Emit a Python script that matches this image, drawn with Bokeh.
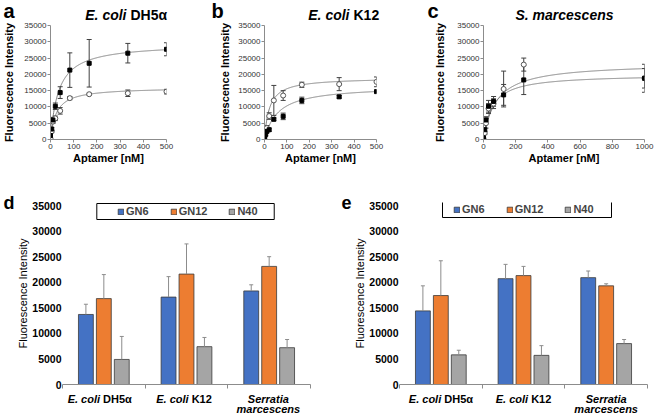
import numpy as np
from bokeh.plotting import figure
from bokeh.models import Range1d, FixedTicker, Legend, LegendItem, LinearAxis
from bokeh.core.properties import value
from bokeh.layouts import row, column
from bokeh.embed import file_html
from bokeh.resources import INLINE

FONT = "Liberation Sans"
W = 656

# ---------------- data: binding curves (a, b, c) ----------------
conc_ab = [0, 5.2, 10.4, 20.8, 41.7, 83.3, 166.7, 333.3, 500]
conc_c = [0, 7.8, 15.6, 31.25, 62.5, 125, 250, 1000]

a_filled = [1200, 3200, 6000, 10200, 14400, 21300, 23400, 26500, 27700]
a_filled_err = [300, 500, 800, 1000, 1800, 5300, 7300, 3000, 2000]
a_open = [300, 2500, 5500, 6500, 8800, 12700, 13900, 14200, 14700]
a_open_err = [200, 400, 600, 700, 1000, 500, 300, 1000, 700]

b_filled = [300, 1500, 2500, 3000, 6200, 7100, 12000, 13100, 14700]
b_filled_err = [200, 300, 400, 500, 400, 1000, 1000, 400, 300]
b_open = [500, 2500, 3500, 7200, 12000, 13500, 16800, 17000, 17700]
b_open_err = [200, 500, 800, 1000, 4600, 1500, 800, 2000, 1500]

c_filled = [500, 3000, 6000, 10200, 11700, 13700, 18300, 18800]
c_filled_err = [200, 500, 1000, 1800, 1500, 3200, 4500, 3000]
c_open = [300, 2000, 5000, 9500, 11000, 15500, 23000, 18800]
c_open_err = [200, 500, 1500, 1500, 1500, 5500, 2000, 4300]

# fitted saturation curves: (Bmax, Kd)
a_fit_filled, a_fit_open = (29500, 35), (16000, 25)
b_fit_filled, b_fit_open = (16500, 60), (19000, 22)
c_fit_filled, c_fit_open = (23500, 80), (20000, 55)

panel_titles = [["E. coli", "DH5α"], ["E. coli", "K12"], ["S. marcescens"]]
ticks_ab = [0, 100, 200, 300, 400, 500]
ticks_c = [0, 200, 400, 600, 800, 1000]
ticks_y = [0, 5000, 10000, 15000, 20000, 25000, 30000, 35000]

# ---------------- data: bar charts (d, e) ----------------
categories = ["E. coli DH5α", "E. coli K12", "Serratia marcescens"]
series = ["GN6", "GN12", "N40"]
colors = ["#4472C4", "#ED7D31", "#A5A5A5"]

d_vals = [[13700, 17100, 18300], [16800, 21600, 23100], [4900, 7400, 7200]]
d_errs = [[2000, 4000, 1200], [4700, 5900, 1900], [4500, 1800, 1600]]
e_vals = [[14400, 20700, 20900], [17400, 21300, 19300], [5800, 5700, 8000]]
e_errs = [[4900, 2800, 1300], [6800, 1800, 400], [900, 1900, 800]]

# approximate Arial-bold advance widths (em) for the split category labels
CW = {"E": .667, ".": .278, " ": .278, "c": .556, "o": .611, "l": .278, "i": .278,
      "D": .722, "H": .722, "5": .556, "α": .6, "K": .722, "1": .556, "2": .556}


def text_w(s, size):
    return sum(CW.get(ch, .6) for ch in s) * size


def strip(height):
    """A bare figure whose data coordinates are page pixels (y downward)."""
    p = figure(width=W, height=height, x_range=Range1d(0, W), y_range=Range1d(height, 0),
               x_axis_type=None, y_axis_type=None, output_backend="svg", toolbar_location=None,
               min_border=0)
    p.grid.visible = False
    p.outline_line_color = None
    return p


def style_axis(ax, color="#333333", size="8px", bold=False):
    ax.major_label_text_font = FONT
    ax.major_label_text_font_size = size
    ax.major_label_text_color = color
    ax.major_label_text_font_style = "bold" if bold else "normal"
    ax.axis_label_text_font = FONT
    ax.axis_label_text_color = "black"
    ax.minor_tick_line_color = None


TXT = dict(text_font=value(FONT), text_baseline="middle", text_line_height=1.0)

# ---------------- header strip: panel letters and titles (page y 0..21) ----------------
HEAD_H = 21
head = strip(HEAD_H)
head.text(x=[3, 211, 427], y=[10.5, 10.5, 10.5], text=["a", "b", "c"],
          text_font_size="20px", text_font_style="bold", **TXT)
head.text(x=[126, 349], y=[14, 14], text=[panel_titles[0][0], panel_titles[1][0]],
          text_font_size="14px", text_font_style="bold italic", text_align="right", **TXT)
head.text(x=[130, 353], y=[14, 14], text=[panel_titles[0][1], panel_titles[1][1]],
          text_font_size="14px", text_font_style="bold", text_align="left", **TXT)
head.text(x=[564], y=[14], text=[panel_titles[2][0]], text_font_size="14px",
          text_font_style="bold italic", text_align="center", **TXT)

TOP_H, TOP_BT, TOP_BB = 145, 4, 26


def titration(width, bl, br, xmax, xticks, conc, filled, ferr, opn, oerr, fitf, fito,
              ylab_standoff):
    p = figure(width=width, height=TOP_H, x_range=Range1d(0, xmax), y_range=Range1d(0, 35000),
               output_backend="svg", toolbar_location=None,
               min_border_left=bl, min_border_right=br, min_border_top=TOP_BT,
               min_border_bottom=TOP_BB)
    p.grid.visible = False
    p.outline_line_color = None
    for ax in (p.xaxis[0], p.yaxis[0]):
        style_axis(ax)
        ax.axis_line_color = "#8c8c8c"
        ax.major_tick_line_color = "#8c8c8c"
        ax.major_tick_out = 3
        ax.major_tick_in = 0
        ax.major_label_standoff = 1
        ax.axis_label_text_font_size = "11px"
        ax.axis_label_text_font_style = "bold"
    p.xaxis.ticker = FixedTicker(ticks=xticks)
    p.yaxis.ticker = FixedTicker(ticks=ticks_y)
    p.xaxis.axis_label = "Aptamer [nM]"
    p.yaxis.axis_label = "Fluorescence Intensity"
    p.xaxis.axis_label_standoff = 0
    p.yaxis.axis_label_standoff = ylab_standoff

    xs = np.linspace(0, xmax, 400)
    for bmax, kd in (fitf, fito):
        p.line(xs, bmax * xs / (kd + xs), line_color="#7f7f7f", line_width=1)
    for vals, errs in ((opn, oerr), (filled, ferr)):
        lo = [v - e for v, e in zip(vals, errs)]
        hi = [v + e for v, e in zip(vals, errs)]
        p.segment(x0=conc, y0=lo, x1=conc, y1=hi, line_color="#404040", line_width=1)
        p.scatter(x=conc + conc, y=lo + hi, marker="dash", size=5, line_color="#404040",
                  line_width=1)
    p.scatter(conc, opn, marker="circle", size=5, fill_color="white", line_color="#555555")
    p.scatter(conc, filled, marker="square", size=4, fill_color="black", line_color="black")
    return p


BOT_Y0, BOT_H, BOT_BT, BOT_BB = 166, 226, 36, 8
YTOP = 35600


def bars(x0, width, bl, br, vals, errs, letter, legend_xy, box_px, ylab_standoff):
    fl, fr = x0 + bl, x0 + width - br
    ft, fb = BOT_Y0 + BOT_BT, BOT_Y0 + BOT_H - BOT_BB
    p = figure(width=width, height=BOT_H, x_range=Range1d(0, 3), y_range=Range1d(0, YTOP),
               output_backend="svg", toolbar_location=None,
               min_border_left=bl, min_border_right=br, min_border_top=BOT_BT,
               min_border_bottom=BOT_BB)
    p.grid.visible = False
    p.outline_line_color = None

    def dx(px):
        return (px - fl) / (fr - fl) * 3

    def dy(py):
        return (fb - py) / (fb - ft) * YTOP

    yax = p.yaxis[0]
    style_axis(yax, color="black", size="10.5px", bold=True)
    yax.axis_line_color = None
    yax.major_tick_line_color = None
    yax.major_tick_out = 0
    yax.major_tick_in = 0
    yax.major_label_standoff = 1
    yax.ticker = FixedTicker(ticks=ticks_y)
    yax.axis_label = "Fluorescence Intensity"
    yax.axis_label_text_font_size = "11px"
    yax.axis_label_text_font_style = "normal"
    yax.axis_label_standoff = ylab_standoff

    # outer left axis carrying only the panel letter at the top of the plot area
    ltick = YTOP - 50
    lax = LinearAxis(ticker=FixedTicker(ticks=[ltick]), major_label_overrides={ltick: letter},
                     axis_line_color=None, major_tick_line_color=None, major_tick_out=0,
                     major_tick_in=0, minor_tick_line_color=None, minor_tick_out=0,
                     minor_tick_in=0, major_label_standoff=0, axis_label_standoff=0,
                     major_label_text_font=FONT, major_label_text_font_size="18px",
                     major_label_text_font_style="bold", major_label_text_color="black")
    p.add_layout(lax, "left")

    xax = p.xaxis[0]
    style_axis(xax)
    xax.ticker = FixedTicker(ticks=[0, 1, 2, 3])
    xax.major_label_overrides = {0: "", 1: "", 2: "", 3: ""}
    xax.major_label_text_font_size = "1px"
    xax.major_label_standoff = 0
    xax.axis_line_color = "#8c8c8c"
    xax.major_tick_line_color = "#8c8c8c"
    xax.major_tick_out = 4
    xax.major_tick_in = 0

    # legend frame box
    bx0, bx1, by0, by1 = box_px
    p.quad(left=[dx(bx0)], right=[dx(bx1)], top=[dy(by0)], bottom=[dy(by1)],
           fill_color="white", line_color="black", line_width=1)

    offs = [-0.217, 0.0, 0.217]
    items = []
    for k in range(3):
        xs = [i + 0.5 + offs[k] for i in range(3)]
        r = p.vbar(x=xs, top=vals[k], width=0.18, fill_color=colors[k], line_color="#3a3a3a",
                   line_width=0.8)
        items.append(LegendItem(label=series[k], renderers=[r]))
        hi = [v + e for v, e in zip(vals[k], errs[k])]
        p.segment(x0=xs, y0=vals[k], x1=xs, y1=hi, line_color="#8c8c8c", line_width=1)
        p.scatter(x=xs, y=hi, marker="dash", size=4, line_color="#8c8c8c", line_width=1)

    leg = Legend(items=items, orientation="horizontal", location=legend_xy,
                 label_text_font=FONT, label_text_font_size="11px", label_text_font_style="bold",
                 glyph_width=7, glyph_height=7, label_standoff=2, spacing=21, padding=2, margin=0,
                 border_line_alpha=0, background_fill_alpha=0, label_height=12)
    p.add_layout(leg)
    return p, (fl, fr)


# top row (page y 21..166)
pa = titration(210, 47, 44, 500, ticks_ab, conc_ab, a_filled, a_filled_err, a_open, a_open_err,
               a_fit_filled, a_fit_open, 6)
pb = titration(215, 54, 49, 500, ticks_ab, conc_ab, b_filled, b_filled_err, b_open,
               b_open_err, b_fit_filled, b_fit_open, 4)
pc = titration(231, 58, 12, 1000, ticks_c, conc_c, c_filled, c_filled_err, c_open,
               c_open_err, c_fit_filled, c_fit_open, 8)

# bottom row (page y 166..392)
pd_, frame_d = bars(0, 338, 57, 28, d_vals, d_errs, "d", (53, 165), (92, 273, 203, 219), 0)
pe, frame_e = bars(338, 318, 61, 9, e_vals, e_errs, "e", (52, 167), (442, 611, 201, 217), 0)

# ---------------- footer strip: category labels (page y 392..414) ----------------
FOOT_H = 22
foot = strip(FOOT_H)
fs = 11
it_x, it_t, ro_x, ro_t, ce_x, ce_y, ce_t = [], [], [], [], [], [], []
for fl, fr in (frame_d, frame_e):
    for i, cat in enumerate(categories):
        cx = fl + (fr - fl) * (i + 0.5) / 3
        if cat.startswith("E. coli "):
            it, rom = "E. coli", cat[len("E. coli "):]
            wi, wr, sp = text_w(it, fs), text_w(rom, fs), text_w(" ", fs)
            off = -(wi + sp + wr) / 2 + wi
            it_x.append(cx + off)
            it_t.append(it)
            ro_x.append(cx + off + sp)
            ro_t.append(rom)
        else:
            for j, word in enumerate(cat.split(" ")):
                ce_x.append(cx)
                ce_y.append(6 + 10.5 * j)
                ce_t.append(word)
foot.text(x=it_x, y=[6] * len(it_x), text=it_t, text_font_size=f"{fs}px",
          text_font_style="bold italic", text_align="right", **TXT)
foot.text(x=ro_x, y=[6] * len(ro_x), text=ro_t, text_font_size=f"{fs}px",
          text_font_style="bold", text_align="left", **TXT)
foot.text(x=ce_x, y=ce_y, text=ce_t, text_font_size=f"{fs}px",
          text_font_style="bold italic", text_align="center", **TXT)

layout = column(head, row(pa, pb, pc), row(pd_, pe), foot)

with open("out.html", "w") as f:
    f.write(file_html(layout, INLINE))
